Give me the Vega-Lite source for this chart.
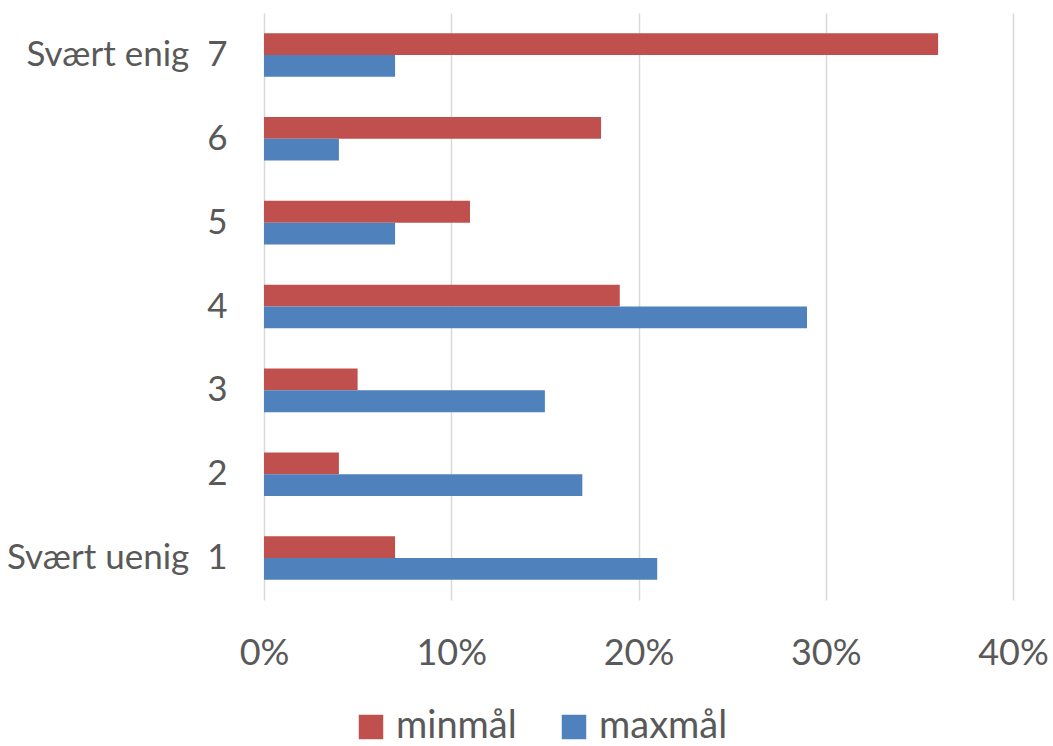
{
  "$schema": "https://vega.github.io/schema/vega-lite/v6.json",
  "width": 749,
  "height": 587,
  "autosize": {"type": "none"},
  "padding": {"left": 264, "top": 13, "right": 40, "bottom": 146},
  "background": "white",
  "config": {
    "view": {"stroke": null},
    "font": "Lato"
  },
  "data": {
    "values": [
      {"kategori": "Svært uenig\u00a0\u00a01", "serie": "minmål", "verdi": 0.07},
      {"kategori": "Svært uenig\u00a0\u00a01", "serie": "maxmål", "verdi": 0.21},
      {"kategori": "2", "serie": "minmål", "verdi": 0.04},
      {"kategori": "2", "serie": "maxmål", "verdi": 0.17},
      {"kategori": "3", "serie": "minmål", "verdi": 0.05},
      {"kategori": "3", "serie": "maxmål", "verdi": 0.15},
      {"kategori": "4", "serie": "minmål", "verdi": 0.19},
      {"kategori": "4", "serie": "maxmål", "verdi": 0.29},
      {"kategori": "5", "serie": "minmål", "verdi": 0.11},
      {"kategori": "5", "serie": "maxmål", "verdi": 0.07},
      {"kategori": "6", "serie": "minmål", "verdi": 0.18},
      {"kategori": "6", "serie": "maxmål", "verdi": 0.04},
      {"kategori": "Svært enig\u00a0\u00a07", "serie": "minmål", "verdi": 0.36},
      {"kategori": "Svært enig\u00a0\u00a07", "serie": "maxmål", "verdi": 0.07}
    ]
  },
  "mark": {"type": "bar"},
  "encoding": {
    "y": {
      "field": "kategori",
      "type": "nominal",
      "sort": ["Svært enig\u00a0\u00a07", "6", "5", "4", "3", "2", "Svært uenig\u00a0\u00a01"],
      "scale": {"paddingInner": 0.48, "paddingOuter": 0.24},
      "axis": {
        "title": null,
        "ticks": false,
        "domain": false,
        "grid": false,
        "labelFontSize": 35,
        "labelColor": "#595959",
        "labelPadding": 37,
        "labelLimit": 400
      }
    },
    "yOffset": {
      "field": "serie",
      "type": "nominal",
      "sort": ["minmål", "maxmål"],
      "scale": {"paddingInner": 0, "paddingOuter": 0}
    },
    "x": {
      "field": "verdi",
      "type": "quantitative",
      "scale": {"domain": [0, 0.4]},
      "axis": {
        "values": [0, 0.1, 0.2, 0.3, 0.4],
        "format": ".0%",
        "title": null,
        "domain": false,
        "ticks": false,
        "labelFlush": false,
        "labelOverlap": false,
        "gridColor": "#d9d9d9",
        "gridWidth": 1.5,
        "labelFontSize": 36,
        "labelColor": "#595959",
        "labelPadding": 36
      }
    },
    "color": {
      "field": "serie",
      "type": "nominal",
      "scale": {"domain": ["minmål", "maxmål"], "range": ["#C0504D", "#4F81BD"]},
      "legend": {
        "orient": "none",
        "direction": "horizontal",
        "legendX": 88,
        "legendY": 695,
        "title": null,
        "symbolType": "square",
        "symbolSize": 600,
        "symbolStrokeWidth": 0,
        "symbolOpacity": 1,
        "labelFontSize": 38,
        "labelColor": "#595959",
        "columnPadding": 38,
        "labelOffset": 6,
        "padding": 0
      }
    }
  }
}
